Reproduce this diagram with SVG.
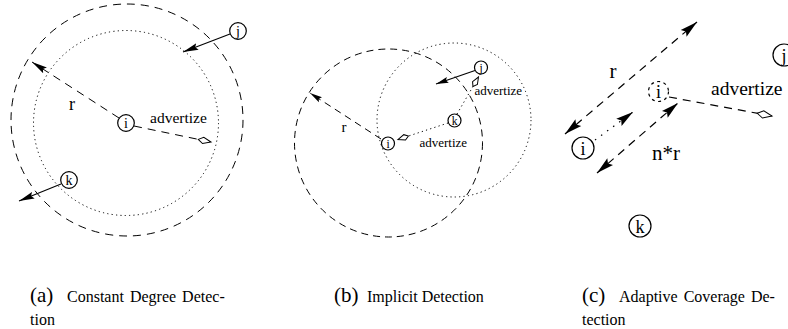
<svg xmlns="http://www.w3.org/2000/svg" width="788" height="329" viewBox="0 0 788 329">
<style>
text{font-family:"Liberation Serif","Times New Roman",serif;fill:#000}
.lbl{text-anchor:middle}
.n{fill:#fff;stroke:#000;stroke-width:1.2}
.nd{fill:#fff;stroke:#000;stroke-width:1.2;stroke-dasharray:3 3.5}
.dash{fill:none;stroke:#000;stroke-width:1;stroke-dasharray:8 6}
.dash7{fill:none;stroke:#000;stroke-width:1;stroke-dasharray:7 5}
.dashc{fill:none;stroke:#000;stroke-width:1.2;stroke-dasharray:8 6}
.dot{fill:none;stroke:#000;stroke-width:1;stroke-dasharray:1.2 3.2}
.dotc{fill:none;stroke:#000;stroke-width:1.2;stroke-dasharray:1.5 6}
.solid{fill:none;stroke:#000;stroke-width:1.1}
</style>
<defs>
<marker id="fa" viewBox="0 0 16 8" markerWidth="16" markerHeight="8" refX="15.5" refY="4" orient="auto-start-reverse" markerUnits="userSpaceOnUse"><path d="M0,0.5 L15.5,4 L0,7.5 L2.5,4 Z" fill="#000"/></marker>
<marker id="fb" viewBox="0 0 13 7" markerWidth="13" markerHeight="7" refX="12.5" refY="3.5" orient="auto-start-reverse" markerUnits="userSpaceOnUse"><path d="M0,0.5 L12.5,3.5 L0,6.5 L2,3.5 Z" fill="#000"/></marker>
<marker id="fc" viewBox="0 0 18 10" markerWidth="18" markerHeight="10" refX="17.5" refY="5" orient="auto-start-reverse" markerUnits="userSpaceOnUse"><path d="M0,0.5 L17.5,5 L0,9.5 L3,5 Z" fill="#000"/></marker>
<marker id="ha" viewBox="-1 -1 16 10" markerWidth="16" markerHeight="10" refX="13" refY="4" orient="auto" markerUnits="userSpaceOnUse"><path d="M0,4 L5,0.8 L13,4 L5,7.2 Z" fill="#fff" stroke="#000" stroke-width="1"/></marker>
<marker id="hb" viewBox="-1 -1 14 9" markerWidth="14" markerHeight="9" refX="11" refY="3.5" orient="auto" markerUnits="userSpaceOnUse"><path d="M0,3.5 L4,0.7 L11,3.5 L4,6.3 Z" fill="#fff" stroke="#000" stroke-width="1"/></marker>
<marker id="hc" viewBox="-1 -1 18 11" markerWidth="18" markerHeight="11" refX="15" refY="4.5" orient="auto" markerUnits="userSpaceOnUse"><path d="M0,4.5 L6,0.8 L15,4.5 L6,8.2 Z" fill="#fff" stroke="#000" stroke-width="1"/></marker>
</defs>

<g id="ranges-a">
<circle cx="127" cy="120" r="116" class="dash"/>
<circle cx="126" cy="123" r="92.5" class="dot"/>
</g>
<g id="ranges-b">
<circle cx="388.5" cy="143" r="94" class="dash7"/>
<circle cx="454" cy="120" r="77" class="dot"/>
</g>

<g id="connectors">
<line x1="119" y1="118" x2="32" y2="62" class="dash" marker-end="url(#fa)"/>
<line x1="134" y1="126" x2="211" y2="142" class="dash" marker-end="url(#ha)"/>
<line x1="230" y1="34" x2="183" y2="52" class="solid" marker-end="url(#fa)"/>
<line x1="61" y1="184" x2="19" y2="201" class="solid" marker-end="url(#fa)"/>
<line x1="381" y1="139" x2="310" y2="93" class="dash7" marker-end="url(#fb)"/>
<line x1="448" y1="123" x2="398" y2="139.5" class="dot" marker-end="url(#hb)"/>
<line x1="457" y1="114" x2="478.5" y2="77" class="dot" marker-end="url(#hb)"/>
<line x1="475" y1="70.5" x2="436" y2="84" class="solid" marker-end="url(#fb)"/>
<line x1="565" y1="134" x2="697" y2="22" class="dashc" marker-start="url(#fc)" marker-end="url(#fc)"/>
<line x1="595" y1="140" x2="633" y2="112" class="dotc" marker-end="url(#fc)"/>
<line x1="597" y1="173" x2="678" y2="103" class="dashc" marker-start="url(#fc)" marker-end="url(#fc)"/>
<line x1="669" y1="97" x2="772" y2="116" class="dashc" marker-end="url(#hc)"/>
</g>

<g id="a-i"><circle cx="126" cy="123" r="8.3" class="n"/><text x="126" y="128" font-size="14" class="lbl">i</text></g>
<g id="a-j"><circle cx="238" cy="31" r="8.3" class="n"/><text x="238" y="36" font-size="14" class="lbl">j</text></g>
<g id="a-k"><circle cx="69" cy="180" r="8.3" class="n"/><text x="69" y="185" font-size="14" class="lbl">k</text></g>
<g id="a-labels">
<text x="72" y="110" font-size="18" class="lbl">r</text>
<text x="150" y="123" font-size="15.5">advertize</text>
</g>

<g id="b-i"><circle cx="388" cy="143.5" r="6.5" class="n"/><text x="388" y="147.5" font-size="11.5" class="lbl">i</text></g>
<g id="b-k"><circle cx="454.5" cy="120.5" r="6.5" class="n"/><text x="454.5" y="124.5" font-size="11.5" class="lbl">k</text></g>
<g id="b-j"><circle cx="481" cy="67.5" r="6.5" class="n"/><text x="481" y="71.5" font-size="11.5" class="lbl">j</text></g>
<g id="b-labels">
<text x="344" y="132" font-size="15" class="lbl">r</text>
<text x="419.5" y="147" font-size="13">advertize</text>
<text x="474.5" y="95" font-size="13">advertize</text>
</g>

<g id="c-i"><circle cx="583" cy="148" r="11" class="n"/><text x="583" y="154.5" font-size="18" class="lbl">i</text></g>
<g id="c-i-new"><circle cx="658.5" cy="91.5" r="10" class="nd"/><text x="658.5" y="98" font-size="18" class="lbl">i</text></g>
<g id="c-k"><circle cx="640" cy="226" r="11" class="n"/><text x="640" y="232.5" font-size="18" class="lbl">k</text></g>
<g id="c-j"><circle cx="784" cy="55" r="11" class="n"/><text x="784" y="61.5" font-size="18" class="lbl">j</text></g>
<g id="c-labels">
<text x="613" y="78" font-size="21" class="lbl">r</text>
<text x="652" y="160" font-size="21">n*r</text>
<text x="711" y="95" font-size="19.5">advertize</text>
</g>

<g id="captions">
<text x="30" y="302" font-size="21">(a)</text>
<text x="67" y="302" font-size="16" word-spacing="2">Constant Degree Detec-</text>
<text x="30" y="324.5" font-size="16">tion</text>
<text x="334" y="302" font-size="21">(b)</text>
<text x="367" y="302" font-size="16">Implicit Detection</text>
<text x="582" y="302" font-size="21">(c)</text>
<text x="619" y="302" font-size="16" word-spacing="2">Adaptive Coverage De-</text>
<text x="582" y="324.5" font-size="16">tection</text>
</g>
</svg>
